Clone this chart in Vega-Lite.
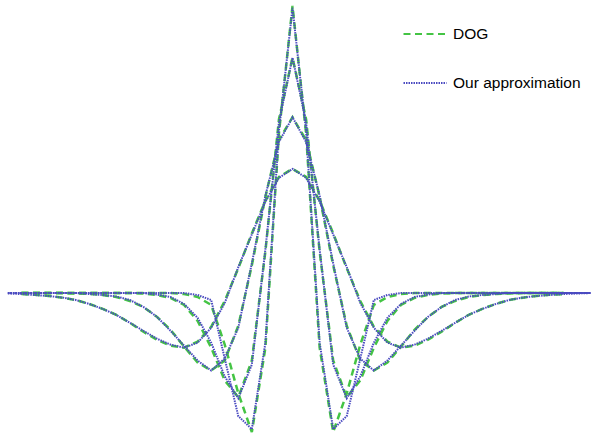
{
  "$schema": "https://vega.github.io/schema/vega-lite/v6.json",
  "width": 595,
  "height": 442,
  "autosize": {"type": "fit", "contains": "padding"},
  "padding": 0,
  "background": "white",
  "config": {"view": {"stroke": null}},
  "data": {"values": [
    {"k": -21, "d1": null, "d2": null, "d3": null, "d4": null, "a1": 0, "a2": 0, "a3": 0, "a4": -0.5},
    {"k": -20, "d1": 0, "d2": 0, "d3": 0, "d4": -1.1, "a1": 0, "a2": 0, "a3": 0, "a4": -1},
    {"k": -19, "d1": 0, "d2": 0, "d3": 0, "d4": -1.8, "a1": 0, "a2": 0, "a3": 0, "a4": -2},
    {"k": -18, "d1": 0, "d2": 0, "d3": 0, "d4": -2.9, "a1": 0, "a2": 0, "a3": 0, "a4": -3},
    {"k": -17, "d1": 0, "d2": 0, "d3": 0, "d4": -4.7, "a1": 0, "a2": 0, "a3": 0, "a4": -4.5},
    {"k": -16, "d1": 0, "d2": 0, "d3": -0.4, "d4": -7, "a1": 0, "a2": 0, "a3": 0, "a4": -7},
    {"k": -15, "d1": 0, "d2": 0, "d3": -1, "d4": -11, "a1": 0, "a2": 0, "a3": -1, "a4": -11},
    {"k": -14, "d1": 0, "d2": 0, "d3": -2, "d4": -16, "a1": 0, "a2": 0, "a3": -2, "a4": -16},
    {"k": -13, "d1": 0, "d2": 0, "d3": -4, "d4": -22, "a1": 0, "a2": 0, "a3": -3.5, "a4": -22},
    {"k": -12, "d1": 0, "d2": 0, "d3": -8, "d4": -30, "a1": 0, "a2": 0, "a3": -7, "a4": -30},
    {"k": -11, "d1": 0, "d2": -0.5, "d3": -14, "d4": -39, "a1": 0, "a2": 0, "a3": -14, "a4": -38},
    {"k": -10, "d1": 0, "d2": -2, "d3": -24, "d4": -47, "a1": 0, "a2": -1.5, "a3": -24, "a4": -46},
    {"k": -9, "d1": 0, "d2": -5, "d3": -37, "d4": -53, "a1": 0, "a2": -4, "a3": -38, "a4": -52},
    {"k": -8, "d1": -1, "d2": -12, "d3": -54, "d4": -55, "a1": 0, "a2": -11, "a3": -53, "a4": -55},
    {"k": -7, "d1": -4, "d2": -28, "d3": -70, "d4": -49, "a1": -2, "a2": -25, "a3": -68, "a4": -50},
    {"k": -6, "d1": -12, "d2": -55, "d3": -78, "d4": -34, "a1": -7, "a2": -50, "a3": -78, "a4": -35},
    {"k": -5, "d1": -52, "d2": -88, "d3": -68, "d4": -8, "a1": -66, "a2": -84, "a3": -66, "a4": -10},
    {"k": -4, "d1": -101, "d2": -105, "d3": -33, "d4": 25, "a1": -124, "a2": -106, "a3": -35, "a4": 26},
    {"k": -3, "d1": -140, "d2": -68, "d3": 28, "d4": 60, "a1": -137, "a2": -72, "a3": 30, "a4": 59},
    {"k": -2, "d1": -55, "d2": 42, "d3": 97, "d4": 93, "a1": -50, "a2": 44, "a3": 98, "a4": 92},
    {"k": -1, "d1": 161, "d2": 175, "d3": 154, "d4": 117, "a1": 163, "a2": 172, "a3": 152, "a4": 116},
    {"k": 0, "d1": 289, "d2": 237, "d3": 177, "d4": 125, "a1": 287, "a2": 237, "a3": 177, "a4": 125},
    {"k": 1, "d1": 161, "d2": 175, "d3": 154, "d4": 117, "a1": 163, "a2": 172, "a3": 152, "a4": 116},
    {"k": 2, "d1": -55, "d2": 42, "d3": 97, "d4": 93, "a1": -50, "a2": 44, "a3": 98, "a4": 92},
    {"k": 3, "d1": -140, "d2": -68, "d3": 28, "d4": 60, "a1": -137, "a2": -72, "a3": 30, "a4": 59},
    {"k": 4, "d1": -101, "d2": -105, "d3": -33, "d4": 25, "a1": -124, "a2": -106, "a3": -35, "a4": 26},
    {"k": 5, "d1": -52, "d2": -88, "d3": -68, "d4": -8, "a1": -66, "a2": -84, "a3": -66, "a4": -10},
    {"k": 6, "d1": -12, "d2": -55, "d3": -78, "d4": -34, "a1": -7, "a2": -50, "a3": -78, "a4": -35},
    {"k": 7, "d1": -4, "d2": -28, "d3": -70, "d4": -49, "a1": -2, "a2": -25, "a3": -68, "a4": -50},
    {"k": 8, "d1": -1, "d2": -12, "d3": -54, "d4": -55, "a1": 0, "a2": -11, "a3": -53, "a4": -55},
    {"k": 9, "d1": 0, "d2": -5, "d3": -37, "d4": -53, "a1": 0, "a2": -4, "a3": -38, "a4": -52},
    {"k": 10, "d1": 0, "d2": -2, "d3": -24, "d4": -47, "a1": 0, "a2": -1.5, "a3": -24, "a4": -46},
    {"k": 11, "d1": 0, "d2": -0.5, "d3": -14, "d4": -39, "a1": 0, "a2": 0, "a3": -14, "a4": -38},
    {"k": 12, "d1": 0, "d2": 0, "d3": -8, "d4": -30, "a1": 0, "a2": 0, "a3": -7, "a4": -30},
    {"k": 13, "d1": 0, "d2": 0, "d3": -4, "d4": -22, "a1": 0, "a2": 0, "a3": -3.5, "a4": -22},
    {"k": 14, "d1": 0, "d2": 0, "d3": -2, "d4": -16, "a1": 0, "a2": 0, "a3": -2, "a4": -16},
    {"k": 15, "d1": 0, "d2": 0, "d3": -1, "d4": -11, "a1": 0, "a2": 0, "a3": -1, "a4": -11},
    {"k": 16, "d1": 0, "d2": 0, "d3": -0.4, "d4": -7, "a1": 0, "a2": 0, "a3": 0, "a4": -7},
    {"k": 17, "d1": 0, "d2": 0, "d3": 0, "d4": -4.7, "a1": 0, "a2": 0, "a3": 0, "a4": -4.5},
    {"k": 18, "d1": 0, "d2": 0, "d3": 0, "d4": -2.9, "a1": 0, "a2": 0, "a3": 0, "a4": -3},
    {"k": 19, "d1": 0, "d2": 0, "d3": 0, "d4": -1.8, "a1": 0, "a2": 0, "a3": 0, "a4": -2},
    {"k": 20, "d1": 0, "d2": 0, "d3": 0, "d4": -1.1, "a1": 0, "a2": 0, "a3": 0, "a4": -1},
    {"k": 21, "d1": null, "d2": null, "d3": null, "d4": null, "a1": 0, "a2": 0, "a3": 0, "a4": -0.5},
    {"k": 22, "d1": null, "d2": null, "d3": null, "d4": null, "a1": 0, "a2": 0, "a3": 0, "a4": 0}
  ]},
  "layer": [
    {
      "transform": [
        {"fold": ["d1", "d2", "d3", "d4"], "as": ["curve", "v"]},
        {"filter": "isValid(datum.v)"}
      ],
      "mark": {"type": "line", "strokeWidth": 2.5},
      "encoding": {
        "x": {"field": "k", "type": "quantitative", "scale": {"domain": [-21.581, 22.169], "nice": false, "zero": false}, "axis": null},
        "y": {"field": "v", "type": "quantitative", "scale": {"domain": [-150, 292], "nice": false, "zero": false}, "axis": null},
        "detail": {"field": "curve", "type": "nominal"},
        "color": {
          "datum": "DOG",
          "scale": {"domain": ["DOG", "Our approximation"], "range": ["#44c444", "#4a4ac0"]},
          "legend": {"orient": "none", "legendX": 402, "legendY": 8, "title": null, "padding": 0, "symbolType": "stroke", "symbolSize": 1849, "symbolStrokeWidth": 2.2, "labelFont": "Liberation Sans", "labelFontSize": 15.5, "labelColor": "black", "labelOffset": 5, "rowPadding": 17}
        },
        "strokeDash": {
          "datum": "DOG",
          "scale": {"domain": ["DOG", "Our approximation"], "range": [[7, 4.5], [1.5, 1]]},
          "legend": {"orient": "none", "legendX": 402, "legendY": 8, "title": null, "padding": 0, "symbolType": "stroke", "symbolSize": 1849, "symbolStrokeWidth": 2.2, "labelFont": "Liberation Sans", "labelFontSize": 15.5, "labelColor": "black", "labelOffset": 5, "rowPadding": 17}
        }
      }
    },
    {
      "transform": [
        {"fold": ["a1", "a2", "a3", "a4"], "as": ["curve", "v"]},
        {"filter": "isValid(datum.v)"}
      ],
      "mark": {"type": "line", "strokeWidth": 2},
      "encoding": {
        "x": {"field": "k", "type": "quantitative"},
        "y": {"field": "v", "type": "quantitative"},
        "detail": {"field": "curve", "type": "nominal"},
        "color": {"datum": "Our approximation"},
        "strokeDash": {"datum": "Our approximation"}
      }
    }
  ]
}
